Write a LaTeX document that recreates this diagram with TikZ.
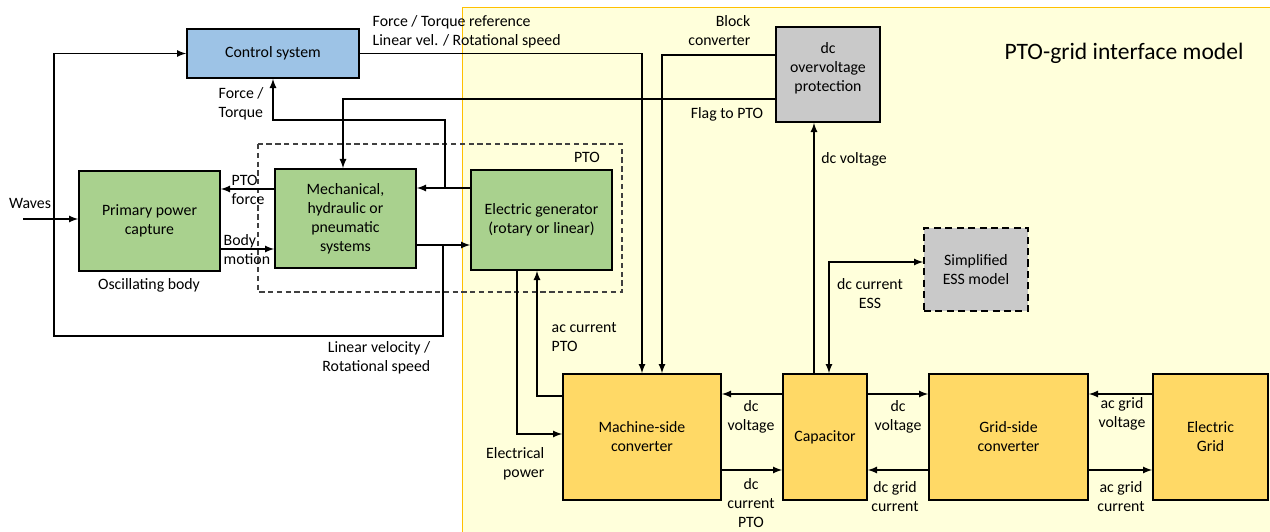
\documentclass[tikz,border=0pt]{standalone}
\usepackage{fontspec}
\setmainfont{Carlito}
\usepackage{tikz}

\definecolor{ctrlblue}{HTML}{9DC3E6}
\definecolor{ptogreen}{HTML}{A9D18E}
\definecolor{protgray}{HTML}{C9C9C9}
\definecolor{convorange}{HTML}{FFD966}
\definecolor{bgyellow}{HTML}{FFFFDB}
\definecolor{bgorange}{HTML}{FFC000}

\begin{document}
\begin{tikzpicture}[x=0.02cm,y=-0.02cm,>=latex,line width=0.8pt,
  font=\fontsize{9}{10.8}\selectfont,
  box/.style={draw,line width=1pt,align=center,inner sep=2pt},
  lbl/.style={inner sep=0pt,align=center}]

\useasboundingbox (0,0) rectangle (1270,531);

% interface model area
\draw[fill=bgyellow,draw=bgorange,line width=0.5pt] (462,7) rectangle (1280,540);
\node[lbl,font=\fontsize{13.4}{15}\selectfont] (title) at (1124,53) {PTO-grid interface model};

% PTO frame
\draw[black!75,line width=0.6pt,dash pattern=on 3pt off 2pt] (258,144) rectangle (622,292);
\node[lbl] (ptolbl) at (587,157) {PTO};

% blocks
\node[box,fill=ctrlblue,minimum width=3.44cm,minimum height=0.98cm] (ctrl) at (273,53.5) {Control system};

\node[box,fill=ptogreen,minimum width=2.82cm,minimum height=2cm] (ppc) at (149.5,221) {Primary power\\capture};
\node[box,fill=ptogreen,minimum width=2.82cm,minimum height=1.98cm] (mech) at (345.5,218.5) {Mechanical,\\hydraulic or\\pneumatic\\systems};
\node[box,fill=ptogreen,minimum width=2.82cm,minimum height=2cm] (gen) at (541.5,220) {Electric generator\\(rotary or linear)};

\node[box,fill=protgray,text depth=0.31cm,minimum width=2.08cm,minimum height=1.9cm] (ovp) at (828,74.5) {dc\\overvoltage\\protection};
\node[box,fill=protgray,dash pattern=on 4pt off 2.5pt,minimum width=2.08cm,minimum height=1.66cm] (ess) at (976,269.5) {Simplified\\ESS model};

\node[box,fill=convorange,minimum width=3.16cm,minimum height=2.52cm] (msc) at (642,437) {Machine-side\\converter};
\node[box,fill=convorange,minimum width=1.68cm,minimum height=2.52cm] (cap) at (825,437) {Capacitor};
\node[box,fill=convorange,minimum width=3.18cm,minimum height=2.52cm] (gsc) at (1008.5,437) {Grid-side\\converter};
\node[box,fill=convorange,minimum width=2.3cm,minimum height=2.52cm] (grid) at (1210.5,437) {Electric\\Grid};

% routing points
\coordinate (wavesin) at (23,219);
\coordinate (lv) at (443,245);
\coordinate (lvloop) at (54,336);
\coordinate (ft) at (445,188);
\coordinate (ftup) at (445,120);
\coordinate (ptof) at (0,189);
\coordinate (bodym) at (0,249);
\coordinate (blk) at (662,55);
\coordinate (flag) at (343,99);
\coordinate (dcv) at (814,0);
\coordinate (essc) at (829,262);
\coordinate (ep) at (517,434);
\coordinate (acc) at (537,396);
\coordinate (uprow) at (0,394);
\coordinate (dnrow) at (0,470);

% oscillating body side
\draw[->] (wavesin) -- (wavesin -| ppc.west);
\draw[->] (mech.west |- ptof) -- (ppc.east |- ptof);
\draw[->] (ppc.east |- bodym) -- (mech.west |- bodym);
\draw[->] (mech.east |- lv) -- (gen.west |- lv);
\draw[->] (lv) |- (lvloop) |- (ctrl.west);
\draw[->] (gen.west |- ft) -- (mech.east |- ft);
\draw[->] (ft) -- (ftup) -| (ctrl.south);

% control and protection
\draw[->] (ctrl.east) -| (msc.north);
\draw[->] (ovp.west |- blk) -- (blk) -- (blk |- msc.north);
\draw[->] (ovp.west |- flag) -- (flag) -- (flag |- mech.north);
\draw[->] (cap.north -| dcv) -- (ovp.south -| dcv);
\draw[<->] (cap.north -| essc) -- (essc) -- (ess.west |- essc);

% generator and converters
\draw[->] (gen.south -| ep) -- (ep) -- (msc.west |- ep);
\draw[->] (msc.west |- acc) -- (acc) -- (acc |- gen.south);
\draw[->] (cap.west |- uprow) -- (msc.east |- uprow);
\draw[->] (msc.east |- dnrow) -- (cap.west |- dnrow);
\draw[->] (cap.east |- uprow) -- (gsc.west |- uprow);
\draw[->] (gsc.west |- dnrow) -- (cap.east |- dnrow);
\draw[->] (grid.west |- uprow) -- (gsc.east |- uprow);
\draw[->] (gsc.east |- dnrow) -- (grid.west |- dnrow);

% labels
\node[lbl] (waveslbl) at (30,203) {Waves};
\node[lbl,anchor=west,align=left] (reflbl) at (372,31.5) {Force / Torque reference\\Linear vel. / Rotational speed};
\node[lbl,anchor=west,align=left] (ftlbl) at (218,104) {Force /\\Torque};
\node[lbl,anchor=west,align=left] (ptoflbl) at (231,190) {PTO\\force};
\node[lbl,anchor=west,align=left] (bodylbl) at (223,249.5) {Body\\motion};
\node[lbl] (osclbl) at (149,285) {Oscillating body};
\node[lbl,anchor=east,align=right] (lvlbl) at (431,357.5) {Linear velocity /\\Rotational speed};
\node[lbl,anchor=east,align=right] (blklbl) at (751,30.5) {Block\\converter};
\node[lbl] (flaglbl) at (727,114) {Flag to PTO};
\node[lbl] (dcvlbl) at (854,159) {dc voltage};
\node[lbl] (esslbl) at (870,293.5) {dc current\\ESS};
\node[lbl,anchor=west,align=left] (acclbl) at (551,337.5) {ac current\\PTO};
\node[lbl,anchor=east,align=right] (eplbl) at (545,463.5) {Electrical\\power};
\node[lbl] (dcvmlbl) at (751,416.5) {dc\\voltage};
\node[lbl] (dcilbl) at (751,503) {dc\\current\\PTO};
\node[lbl] (dcvglbl) at (898,416.5) {dc\\voltage};
\node[lbl] (dcglbl) at (895,496.5) {dc grid\\current};
\node[lbl] (acvlbl) at (1122,413.5) {ac grid\\voltage};
\node[lbl] (acilbl) at (1121,496.5) {ac grid\\current};

\end{tikzpicture}
\end{document}
